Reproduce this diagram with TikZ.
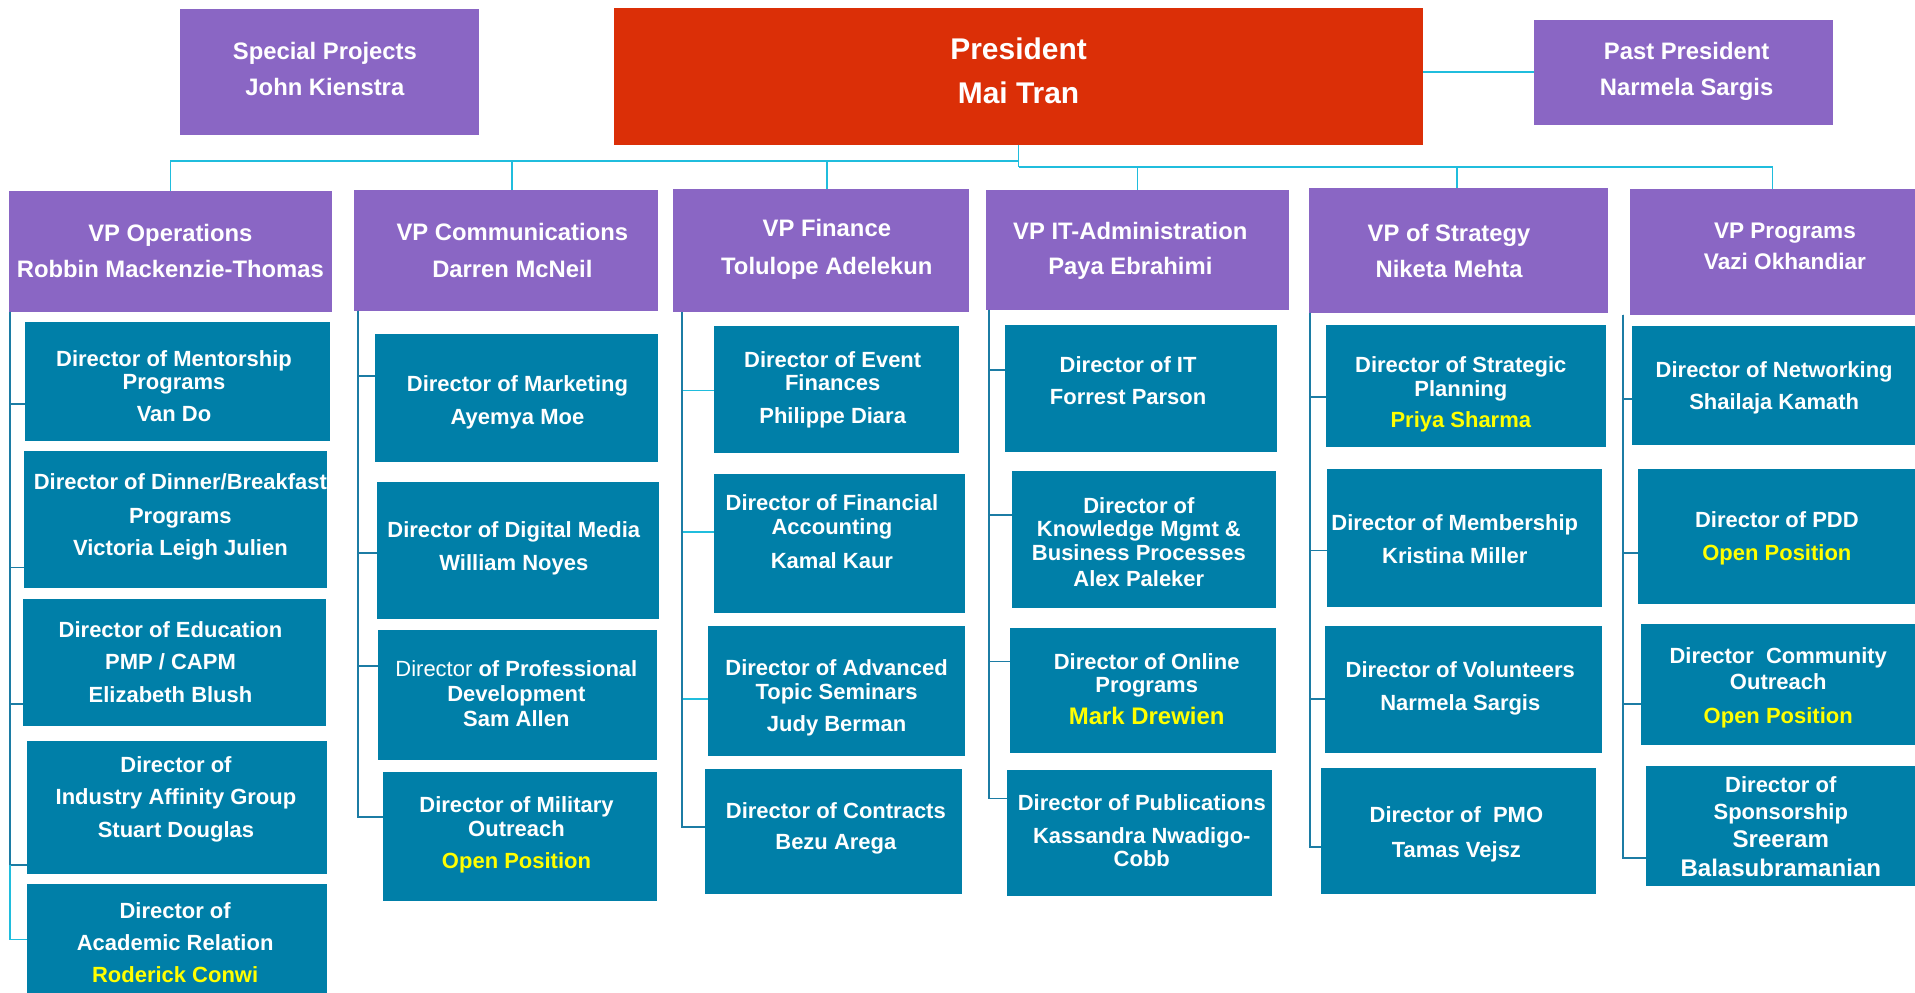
\documentclass[tikz,border=0pt]{standalone}
\usepackage{fontspec}
\setmainfont{Liberation Sans}
\definecolor{purp}{HTML}{8A66C4}
\definecolor{presred}{HTML}{DB2F07}
\definecolor{dteal}{HTML}{007FA8}
\definecolor{lcyan}{HTML}{20BDDD}
\definecolor{cteal}{HTML}{1C7CA4}
\definecolor{yell}{HTML}{FFFF00}
\newcommand\yl[1]{\textcolor{yell}{#1}}
\newcommand\ylb[1]{{\fontsize{19.6}{19.5}\selectfont\textcolor{yell}{#1}}}
\newcommand\bigname[1]{{\fontsize{19.7}{19.5}\selectfont #1}}
\tikzset{
  every node/.style={inner sep=0pt, outer sep=0pt},
  bx/.style 2 args={minimum width=#1, minimum height=#2},
  pb/.style={fill=purp, draw=none},
  rb/.style={fill=presred, draw=none},
  tb/.style={fill=dteal, draw=none},
  vtext/.style={text=white, align=center, font=\bfseries\fontsize{19.5}{24}\selectfont},
  vtexts/.style={text=white, align=center, font=\bfseries\fontsize{18.5}{23}\selectfont},
  ptext/.style={text=white, align=center, font=\bfseries\fontsize{24.5}{30}\selectfont},
  dtext/.style={text=white, align=center, font=\bfseries\fontsize{18}{19.5}\selectfont},
  conn/.style={draw=lcyan, line width=1.5pt},
  connd/.style={draw=cteal, line width=1.5pt},
}
\begin{document}
\begin{tikzpicture}[x=1pt,y=-1pt]
\useasboundingbox (0,0) rectangle (1568,813);
\fill[white] (0,0) rectangle (1568,813);

% top row
\node[pb, bx={244.8}{103}] (sp) at (269.8,59) {};
\node[rb, bx={662.4}{112.2}] (pres) at (834,62.4) {};
\node[pb, bx={245}{85.6}] (past) at (1378.4,59.2) {};
\node[vtext] (tsp) at (266,58.7) {\strut Special Projects\\[5pt] John Kienstra\strut};
\node[ptext] (tpres) at (834,60.8) {\strut President\\[6pt] Mai Tran\strut};
\node[vtext] (tpast) at (1381,58.7) {\strut Past President\\[5pt] Narmela Sargis\strut};

% VP row
\node[pb, bx={264.6}{98.8}] (vp1) at (139.6,205.8) {};
\node[pb, bx={248.9}{98.8}] (vp2) at (414.35,205) {};
\node[pb, bx={242}{100.8}] (vp3) at (672.35,205.4) {};
\node[pb, bx={248}{98}] (vp4) at (931.35,204.6) {};
\node[pb, bx={244.8}{102}] (vp5) at (1194.2,205) {};
\node[pb, bx={233.3}{102.9}] (vp6) at (1451.35,206.25) {};
\node[vtext] (tv1) at (139.5,207.7) {\strut VP Operations\\[5pt] Robbin Mackenzie-Thomas\strut};
\node[vtext] (tv2) at (419.5,207.2) {\strut VP Communications\\[6pt] Darren McNeil\strut};
\node[vtext] (tv3) at (677,204.7) {\strut VP Finance\\[7pt] Tolulope Adelekun\strut};
\node[vtext] (tv4) at (925.5,205.7) {\strut VP IT-Administration\\[5pt] Paya Ebrahimi\strut};
\node[vtext] (tv5) at (1186.5,207.7) {\strut VP of Strategy\\[5pt] Niketa Mehta\strut};
\node[vtexts] (tv6) at (1461.5,203.3) {\strut VP Programs\\[3pt] Vazi Okhandiar\strut};

% column 1
\node[tb, bx={249.5}{97}] (d11) at (145.25,312.2) {};
\node[tb, bx={248.1}{111.9}] (d12) at (143.75,425.25) {};
\node[tb, bx={248.1}{104.2}] (d13) at (142.85,542.7) {};
\node[tb, bx={245.7}{108.6}] (d14) at (144.95,661) {};
\node[tb, bx={246}{89.4}] (d15) at (145,768.3) {};
\node[dtext] (t11) at (142.5,318.8) {\strut Director of Mentorship\\[-0.7pt] Programs\\[6.9pt] Van Do\strut};
\node[dtext] (t12) at (147.7,423.9) {\strut Director of Dinner/Breakfast\\[7.9pt] Programs\\[6.7pt] Victoria Leigh Julien\strut};
\node[dtext] (t13) at (139.6,544.9) {\strut Director of Education\\[6.5pt] PMP / CAPM\\[7.5pt] Elizabeth Blush\strut};
\node[dtext] (t14) at (144.1,655.45) {\strut Director of\\[6.9pt] Industry Affinity Group\\[7.6pt] Stuart Douglas\strut};
\node[dtext] (t15) at (143.4,774.65) {\strut Director of\\[6.6pt] Academic Relation\\[6.9pt] \strut\yl{Roderick Conwi}};

% column 2
\node[tb, bx={231.8}{104.5}] (d21) at (422.9,325.75) {};
\node[tb, bx={230.9}{111.8}] (d22) at (424.15,450.6) {};
\node[tb, bx={228.4}{106.2}] (d23) at (423.7,568.9) {};
\node[tb, bx={224.3}{106}] (d24) at (425.75,685) {};
\node[dtext] (t21) at (423.7,330.35) {\strut Director of Marketing\\[7.6pt] Ayemya Moe\strut};
\node[dtext] (t22) at (420.7,449.9) {\strut Director of Digital Media\\[7.3pt] William Noyes\strut};
\node[dtext] (t23) at (422.8,570.6) {\strut{\mdseries Director} of Professional\\[0.4pt] Development\\[1.4pt] Sam Allen\strut};
\node[dtext] (t24) at (422.9,684.6) {\strut Director of Military\\[0.1pt] Outreach\\[6.9pt] \strut\yl{Open Position}};

% column 3
\node[tb, bx={200.4}{104}] (d31) at (684.8,319) {};
\node[tb, bx={205.3}{113.5}] (d32) at (687.25,445.25) {};
\node[tb, bx={210.2}{106.1}] (d33) at (684.8,565.65) {};
\node[tb, bx={210.1}{101.6}] (d34) at (682.35,680.8) {};
\node[dtext] (t31) at (681.8,319.85) {\strut Director of Event\\[-0.7pt] Finances\\[7.6pt] Philippe Diara\strut};
\node[dtext] (t32) at (681.2,438) {\strut Director of Financial\\[-0.4pt] Accounting\\[8.4pt] Kamal Kaur\strut};
\node[dtext] (t33) at (685,572.4) {\strut Director of Advanced\\[-0.3pt] Topic Seminars\\[7.3pt] Judy Berman\strut};
\node[dtext] (t34) at (684.4,679) {\strut Director of Contracts\\[6.5pt] Bezu Arega\strut};

% column 4
\node[tb, bx={223.1}{104.2}] (d41) at (934.45,318.4) {};
\node[tb, bx={215.9}{112.5}] (d42) at (936.55,441.95) {};
\node[tb, bx={217.5}{102.9}] (d43) at (935.75,565.45) {};
\node[tb, bx={216.8}{103.1}] (d44) at (932.9,681.85) {};
\node[dtext] (t41) at (923.7,314.25) {\strut Director of IT\\[7.2pt] Forrest Parson\strut};
\node[dtext] (t42) at (932.5,446.5) {\strut Director of\\[-0.3pt] Knowledge Mgmt \&\\ Business Processes\\[2.2pt] Alex Paleker\strut};
\node[dtext] (t43) at (938.9,566.8) {\strut Director of Online\\[-0.7pt] Programs\\[7.3pt] \strut\ylb{Mark Drewien}};
\node[dtext] (t44) at (934.9,682.8) {\strut Director of Publications\\[7.3pt] Kassandra Nwadigo-\\[-0.3pt] Cobb\strut};

% column 5
\node[tb, bx={229}{99.5}] (d51) at (1200.2,316.05) {};
\node[tb, bx={225}{112.9}] (d52) at (1199,440.25) {};
\node[tb, bx={226.6}{103.6}] (d53) at (1198.2,564.4) {};
\node[tb, bx={225}{103.5}] (d54) at (1194.1,680.55) {};
\node[dtext] (t51) at (1196.1,323.7) {\strut Director of Strategic\\ Planning\\[6.6pt] \strut\yl{Priya Sharma}};
\node[dtext] (t52) at (1191.2,443.95) {\strut Director of Membership\\[6.8pt] Kristina Miller\strut};
\node[dtext] (t53) at (1195.7,564.6) {\strut Director of Volunteers\\[7.3pt] Narmela Sargis\strut};
\node[dtext] (t54) at (1192.5,684.05) {\strut Director of\ \ PMO\\[9.4pt] Tamas Vejsz\strut};

% column 6
\node[tb, bx={231.7}{97.7}] (d61) at (1452.15,315.85) {};
\node[tb, bx={226.8}{110.4}] (d62) at (1454.6,439) {};
\node[tb, bx={224.4}{98.7}] (d63) at (1455.8,560.25) {};
\node[tb, bx={220.2}{98.8}] (d64) at (1457.9,676.4) {};
\node[dtext] (t61) at (1452.7,318) {\strut Director of Networking\\[6.9pt] Shailaja Kamath\strut};
\node[dtext] (t62) at (1454.9,441.6) {\strut Director of PDD\\[8.1pt] \strut\yl{Open Position}};
\node[dtext] (t63) at (1456,563.95) {\strut Director\ \ Community\\[1.4pt] Outreach\\[8.1pt] \strut\yl{Open Position}};
\node[dtext] (t64) at (1458.1,679.5) {\strut Director of\\[1.9pt] Sponsorship\\[4pt] \bigname{Sreeram}\\[4pt] \strut\bigname{Balasubramanian}};

% top connectors
\coordinate (bL) at ([yshift=-13.3pt]pres.south);
\coordinate (bR) at ([yshift=-18.5pt]pres.south);
\draw[conn] (pres.south) -- (bR);
\draw[conn] (bL) -| (vp1.north);
\draw[conn] (bL) -| ([xshift=4.8pt]vp2.north);
\draw[conn] (bL) -| ([xshift=4.6pt]vp3.north);
\draw[conn] (bR) -| (vp4.north);
\draw[conn] (bR) -| ([xshift=-1.5pt]vp5.north);
\draw[conn] (bR) -| (vp6.north);
\draw[conn] (pres.east |- past.west) -- (past.west);

% column trunks
\coordinate (T1) at ([xshift=0.9pt]vp1.south west);
\coordinate (T2) at ([xshift=3.5pt]vp2.south west);
\coordinate (T3) at ([xshift=7.1pt]vp3.south west);
\coordinate (T4) at ([xshift=2.5pt]vp4.south west);
\coordinate (T5) at ([xshift=0.5pt]vp5.south west);
\coordinate (T6) at ([xshift=-5.5pt]vp6.south west);

\draw[connd] (T1) |- ([yshift=-18.4pt]d11.west);
\draw[connd] (T1) |- ([yshift=-39.35pt]d12.west);
\draw[connd] (T1) |- ([yshift=-34pt]d13.west);
\draw[connd] (T1) |- ([yshift=-47pt]d14.west);
\draw[conn] ([yshift=-47pt]d14.west -| T1) |- ([yshift=-0.9pt]d15.west);

\draw[connd] (T2) |- ([yshift=17.85pt]d21.west);
\draw[connd] (T2) |- ([yshift=-2.4pt]d22.west);
\draw[connd] (T2) |- ([yshift=23.6pt]d23.west);
\draw[connd] (T2) |- ([yshift=16pt]d24.west);

\draw[conn] (T3) |- ([yshift=-0.8pt]d31.west);
\draw[conn] (T3) |- ([yshift=9.65pt]d32.west);
\draw[conn] (T3) |- ([yshift=-6.65pt]d33.west);
\draw[connd] (T3) |- ([yshift=3.9pt]d34.west);

\draw[connd] (T4) |- ([yshift=15.6pt]d41.west);
\draw[connd] (T4) |- ([yshift=20.15pt]d42.west);
\draw[connd] (T4) |- ([yshift=23.85pt]d43.west);
\draw[connd] (T4) |- ([yshift=28.05pt]d44.west);

\draw[connd] (T5) |- ([yshift=-9.15pt]d51.west);
\draw[connd] (T5) |- ([yshift=-10.55pt]d52.west);
\draw[connd] (T5) |- ([yshift=-7.9pt]d53.west);
\draw[connd] (T5) |- ([yshift=-12.95pt]d54.west);

\draw[connd] (T6) |- ([yshift=-10.85pt]d61.west);
\draw[connd] (T6) |- ([yshift=-14pt]d62.west);
\draw[connd] (T6) |- ([yshift=-16.05pt]d63.west);
\draw[connd] (T6) |- ([yshift=-25.9pt]d64.west);
\end{tikzpicture}
\end{document}
